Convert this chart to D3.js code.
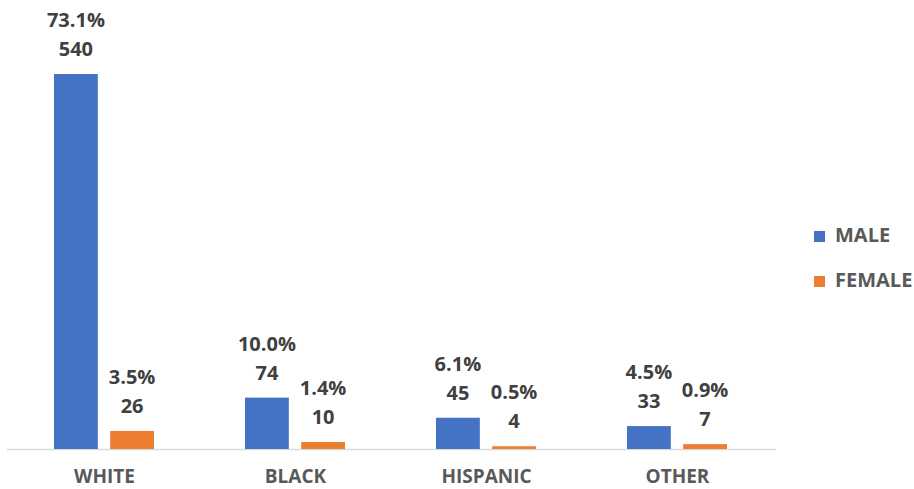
<!DOCTYPE html>
<html><head><meta charset="utf-8">
<script src="https://cdn.jsdelivr.net/npm/d3@7"></script>
<style>body{margin:0;background:#fff}svg{display:block}</style>
</head><body>
<svg id="c" width="914" height="489"></svg>
<script>
const categories = ["WHITE","BLACK","HISPANIC","OTHER"];
const series = ["MALE","FEMALE"];
const maleValues = [540,74,45,33];
const femaleValues = [26,10,4,7];
const malePct = ["73.1%","10.0%","6.1%","4.5%"];
const femalePct = ["3.5%","1.4%","0.5%","0.9%"];
const colors = ["#4472C4","#ED7D31"];

const svg = d3.select("#c");
const font = "'Open Sans', 'Noto Sans', sans-serif";
const x0 = d3.scaleBand().domain(categories).range([7,771]).paddingInner(0).paddingOuter(0);
const x1 = d3.scaleBand().domain(series).range([47,147]).paddingInner(0.22);
const y = d3.scaleLinear().domain([0,540]).range([449,74]);

const data = categories.map((c,i)=>({c, vals:[
  {s:"MALE", v:maleValues[i], p:malePct[i]},
  {s:"FEMALE", v:femaleValues[i], p:femalePct[i]}]}));

svg.append("line").attr("x1",7).attr("x2",776).attr("y1",449.5).attr("y2",449.5)
  .attr("stroke","#d9d9d9").attr("stroke-width",1.5);

const g = svg.selectAll("g.cat").data(data).join("g")
  .attr("transform",d=>`translate(${x0(d.c)},0)`);

g.selectAll("rect").data(d=>d.vals).join("rect")
  .attr("x",d=>x1(d.s)).attr("width",x1.bandwidth())
  .attr("y",d=>y(d.v)).attr("height",d=>y(0)-y(d.v))
  .attr("fill",(d,i)=>colors[i]);

g.selectAll("text.v").data(d=>d.vals).join("text").attr("class","v")
  .attr("x",d=>x1(d.s)+x1.bandwidth()/2).attr("y",d=>y(d.v)-18)
  .attr("text-anchor","middle").attr("font-family",font).attr("font-weight","bold")
  .attr("font-size",20).attr("fill","#404040").text(d=>d.v);

g.selectAll("text.p").data(d=>d.vals).join("text").attr("class","p")
  .attr("x",d=>x1(d.s)+x1.bandwidth()/2).attr("y",d=>y(d.v)-47)
  .attr("text-anchor","middle").attr("font-family",font).attr("font-weight","bold")
  .attr("font-size",20).attr("fill","#404040").text(d=>d.p);

svg.selectAll("text.cat").data(categories).join("text").attr("class","cat")
  .attr("x",d=>x0(d)+x0.bandwidth()/2 + 2).attr("y",483)
  .attr("text-anchor","middle").attr("font-family",font).attr("font-weight","bold")
  .attr("font-size",19).attr("fill","#595959").text(d=>d);

const leg = svg.selectAll("g.leg").data(series).join("g").attr("class","leg")
  .attr("transform",(d,i)=>`translate(814,${231+i*45})`);
leg.append("rect").attr("width",11).attr("height",11).attr("fill",(d,i)=>colors[i]);
leg.append("text").attr("x",21).attr("y",11).attr("font-family",font).attr("font-weight","bold")
  .attr("font-size",20).attr("fill","#595959").text(d=>d);
</script>
</body></html>
